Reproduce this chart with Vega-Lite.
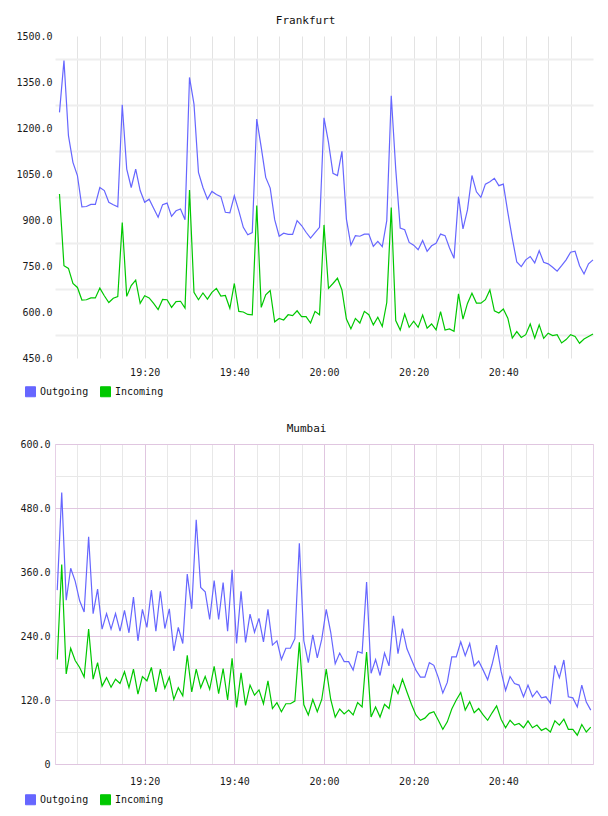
{
  "$schema": "https://vega.github.io/schema/vega-lite/v6.json",
  "background": "white",
  "padding": {"left": 15, "top": 15, "right": 0, "bottom": 0},
  "config": {
    "view": {"stroke": null},
    "axis": {
      "labelFont": "DejaVu Sans Mono",
      "labelFontSize": 10,
      "labelColor": "#1a1a1a",
      "domain": false,
      "ticks": false,
      "tickSize": 0,
      "labelFlush": false,
      "labelOverlap": false
    },
    "title": {
      "font": "DejaVu Sans Mono",
      "fontSize": 11,
      "fontWeight": "normal",
      "color": "#111111",
      "anchor": "middle",
      "frame": "bounds",
      "offset": 5
    },
    "legend": {
      "labelFont": "DejaVu Sans Mono",
      "labelFontSize": 10,
      "labelColor": "#111111"
    }
  },
  "datasets": {
    "frankfurt": [
      {"t": "2024-05-14T19:01:00", "Outgoing": 1251, "Incoming": 985},
      {"t": "2024-05-14T19:02:00", "Outgoing": 1420, "Incoming": 751},
      {"t": "2024-05-14T19:03:00", "Outgoing": 1175, "Incoming": 742},
      {"t": "2024-05-14T19:04:00", "Outgoing": 1088, "Incoming": 693},
      {"t": "2024-05-14T19:05:00", "Outgoing": 1045, "Incoming": 680},
      {"t": "2024-05-14T19:06:00", "Outgoing": 943, "Incoming": 639},
      {"t": "2024-05-14T19:07:00", "Outgoing": 944, "Incoming": 640},
      {"t": "2024-05-14T19:08:00", "Outgoing": 951, "Incoming": 646},
      {"t": "2024-05-14T19:09:00", "Outgoing": 951, "Incoming": 646},
      {"t": "2024-05-14T19:10:00", "Outgoing": 1006, "Incoming": 678},
      {"t": "2024-05-14T19:11:00", "Outgoing": 996, "Incoming": 653},
      {"t": "2024-05-14T19:12:00", "Outgoing": 958, "Incoming": 631},
      {"t": "2024-05-14T19:13:00", "Outgoing": 950, "Incoming": 645},
      {"t": "2024-05-14T19:14:00", "Outgoing": 943, "Incoming": 650},
      {"t": "2024-05-14T19:15:00", "Outgoing": 1276, "Incoming": 892},
      {"t": "2024-05-14T19:16:00", "Outgoing": 1066, "Incoming": 651},
      {"t": "2024-05-14T19:17:00", "Outgoing": 1006, "Incoming": 686},
      {"t": "2024-05-14T19:18:00", "Outgoing": 1066, "Incoming": 704},
      {"t": "2024-05-14T19:19:00", "Outgoing": 996, "Incoming": 628},
      {"t": "2024-05-14T19:20:00", "Outgoing": 958, "Incoming": 653},
      {"t": "2024-05-14T19:21:00", "Outgoing": 968, "Incoming": 646},
      {"t": "2024-05-14T19:22:00", "Outgoing": 938, "Incoming": 628},
      {"t": "2024-05-14T19:23:00", "Outgoing": 909, "Incoming": 608},
      {"t": "2024-05-14T19:24:00", "Outgoing": 950, "Incoming": 641},
      {"t": "2024-05-14T19:25:00", "Outgoing": 955, "Incoming": 640},
      {"t": "2024-05-14T19:26:00", "Outgoing": 912, "Incoming": 615},
      {"t": "2024-05-14T19:27:00", "Outgoing": 930, "Incoming": 634},
      {"t": "2024-05-14T19:28:00", "Outgoing": 936, "Incoming": 635},
      {"t": "2024-05-14T19:29:00", "Outgoing": 901, "Incoming": 613},
      {"t": "2024-05-14T19:30:00", "Outgoing": 1365, "Incoming": 998},
      {"t": "2024-05-14T19:31:00", "Outgoing": 1278, "Incoming": 664},
      {"t": "2024-05-14T19:32:00", "Outgoing": 1055, "Incoming": 640},
      {"t": "2024-05-14T19:33:00", "Outgoing": 1006, "Incoming": 662},
      {"t": "2024-05-14T19:34:00", "Outgoing": 968, "Incoming": 642},
      {"t": "2024-05-14T19:35:00", "Outgoing": 993, "Incoming": 664},
      {"t": "2024-05-14T19:36:00", "Outgoing": 983, "Incoming": 677},
      {"t": "2024-05-14T19:37:00", "Outgoing": 976, "Incoming": 652},
      {"t": "2024-05-14T19:38:00", "Outgoing": 925, "Incoming": 654},
      {"t": "2024-05-14T19:39:00", "Outgoing": 923, "Incoming": 612},
      {"t": "2024-05-14T19:40:00", "Outgoing": 979, "Incoming": 693},
      {"t": "2024-05-14T19:41:00", "Outgoing": 930, "Incoming": 602},
      {"t": "2024-05-14T19:42:00", "Outgoing": 876, "Incoming": 600},
      {"t": "2024-05-14T19:43:00", "Outgoing": 852, "Incoming": 592},
      {"t": "2024-05-14T19:44:00", "Outgoing": 859, "Incoming": 591},
      {"t": "2024-05-14T19:45:00", "Outgoing": 1229, "Incoming": 947},
      {"t": "2024-05-14T19:46:00", "Outgoing": 1137, "Incoming": 615},
      {"t": "2024-05-14T19:47:00", "Outgoing": 1039, "Incoming": 656},
      {"t": "2024-05-14T19:48:00", "Outgoing": 1004, "Incoming": 670},
      {"t": "2024-05-14T19:49:00", "Outgoing": 901, "Incoming": 568},
      {"t": "2024-05-14T19:50:00", "Outgoing": 847, "Incoming": 579},
      {"t": "2024-05-14T19:51:00", "Outgoing": 857, "Incoming": 574},
      {"t": "2024-05-14T19:52:00", "Outgoing": 853, "Incoming": 591},
      {"t": "2024-05-14T19:53:00", "Outgoing": 853, "Incoming": 588},
      {"t": "2024-05-14T19:54:00", "Outgoing": 898, "Incoming": 604},
      {"t": "2024-05-14T19:55:00", "Outgoing": 882, "Incoming": 585},
      {"t": "2024-05-14T19:56:00", "Outgoing": 860, "Incoming": 585},
      {"t": "2024-05-14T19:57:00", "Outgoing": 841, "Incoming": 564},
      {"t": "2024-05-14T19:58:00", "Outgoing": 859, "Incoming": 602},
      {"t": "2024-05-14T19:59:00", "Outgoing": 876, "Incoming": 591},
      {"t": "2024-05-14T20:00:00", "Outgoing": 1233, "Incoming": 884},
      {"t": "2024-05-14T20:01:00", "Outgoing": 1153, "Incoming": 677},
      {"t": "2024-05-14T20:02:00", "Outgoing": 1052, "Incoming": 693},
      {"t": "2024-05-14T20:03:00", "Outgoing": 1045, "Incoming": 710},
      {"t": "2024-05-14T20:04:00", "Outgoing": 1124, "Incoming": 672},
      {"t": "2024-05-14T20:05:00", "Outgoing": 903, "Incoming": 577},
      {"t": "2024-05-14T20:06:00", "Outgoing": 818, "Incoming": 545},
      {"t": "2024-05-14T20:07:00", "Outgoing": 849, "Incoming": 579},
      {"t": "2024-05-14T20:08:00", "Outgoing": 847, "Incoming": 564},
      {"t": "2024-05-14T20:09:00", "Outgoing": 854, "Incoming": 602},
      {"t": "2024-05-14T20:10:00", "Outgoing": 854, "Incoming": 591},
      {"t": "2024-05-14T20:11:00", "Outgoing": 814, "Incoming": 558},
      {"t": "2024-05-14T20:12:00", "Outgoing": 830, "Incoming": 583},
      {"t": "2024-05-14T20:13:00", "Outgoing": 813, "Incoming": 553},
      {"t": "2024-05-14T20:14:00", "Outgoing": 898, "Incoming": 631},
      {"t": "2024-05-14T20:15:00", "Outgoing": 1305, "Incoming": 941},
      {"t": "2024-05-14T20:16:00", "Outgoing": 1066, "Incoming": 572},
      {"t": "2024-05-14T20:17:00", "Outgoing": 874, "Incoming": 541},
      {"t": "2024-05-14T20:18:00", "Outgoing": 868, "Incoming": 593},
      {"t": "2024-05-14T20:19:00", "Outgoing": 827, "Incoming": 550},
      {"t": "2024-05-14T20:20:00", "Outgoing": 818, "Incoming": 570},
      {"t": "2024-05-14T20:21:00", "Outgoing": 803, "Incoming": 550},
      {"t": "2024-05-14T20:22:00", "Outgoing": 833, "Incoming": 590},
      {"t": "2024-05-14T20:23:00", "Outgoing": 798, "Incoming": 547},
      {"t": "2024-05-14T20:24:00", "Outgoing": 816, "Incoming": 561},
      {"t": "2024-05-14T20:25:00", "Outgoing": 824, "Incoming": 542},
      {"t": "2024-05-14T20:26:00", "Outgoing": 854, "Incoming": 601},
      {"t": "2024-05-14T20:27:00", "Outgoing": 849, "Incoming": 541},
      {"t": "2024-05-14T20:28:00", "Outgoing": 809, "Incoming": 545},
      {"t": "2024-05-14T20:29:00", "Outgoing": 775, "Incoming": 537},
      {"t": "2024-05-14T20:30:00", "Outgoing": 976, "Incoming": 659},
      {"t": "2024-05-14T20:31:00", "Outgoing": 871, "Incoming": 577},
      {"t": "2024-05-14T20:32:00", "Outgoing": 933, "Incoming": 628},
      {"t": "2024-05-14T20:33:00", "Outgoing": 1045, "Incoming": 661},
      {"t": "2024-05-14T20:34:00", "Outgoing": 992, "Incoming": 629},
      {"t": "2024-05-14T20:35:00", "Outgoing": 974, "Incoming": 629},
      {"t": "2024-05-14T20:36:00", "Outgoing": 1017, "Incoming": 640},
      {"t": "2024-05-14T20:37:00", "Outgoing": 1025, "Incoming": 672},
      {"t": "2024-05-14T20:38:00", "Outgoing": 1036, "Incoming": 604},
      {"t": "2024-05-14T20:39:00", "Outgoing": 1012, "Incoming": 597},
      {"t": "2024-05-14T20:40:00", "Outgoing": 1017, "Incoming": 610},
      {"t": "2024-05-14T20:41:00", "Outgoing": 925, "Incoming": 580},
      {"t": "2024-05-14T20:42:00", "Outgoing": 840, "Incoming": 515},
      {"t": "2024-05-14T20:43:00", "Outgoing": 763, "Incoming": 536},
      {"t": "2024-05-14T20:44:00", "Outgoing": 748, "Incoming": 517},
      {"t": "2024-05-14T20:45:00", "Outgoing": 770, "Incoming": 526},
      {"t": "2024-05-14T20:46:00", "Outgoing": 781, "Incoming": 561},
      {"t": "2024-05-14T20:47:00", "Outgoing": 760, "Incoming": 515},
      {"t": "2024-05-14T20:48:00", "Outgoing": 800, "Incoming": 558},
      {"t": "2024-05-14T20:49:00", "Outgoing": 762, "Incoming": 514},
      {"t": "2024-05-14T20:50:00", "Outgoing": 757, "Incoming": 531},
      {"t": "2024-05-14T20:51:00", "Outgoing": 746, "Incoming": 523},
      {"t": "2024-05-14T20:52:00", "Outgoing": 733, "Incoming": 526},
      {"t": "2024-05-14T20:53:00", "Outgoing": 751, "Incoming": 499},
      {"t": "2024-05-14T20:54:00", "Outgoing": 770, "Incoming": 510},
      {"t": "2024-05-14T20:55:00", "Outgoing": 795, "Incoming": 526},
      {"t": "2024-05-14T20:56:00", "Outgoing": 798, "Incoming": 520},
      {"t": "2024-05-14T20:57:00", "Outgoing": 751, "Incoming": 498},
      {"t": "2024-05-14T20:58:00", "Outgoing": 724, "Incoming": 512},
      {"t": "2024-05-14T20:59:00", "Outgoing": 757, "Incoming": 520},
      {"t": "2024-05-14T21:00:00", "Outgoing": 770, "Incoming": 528}
    ],
    "mumbai": [
      {"t": "2024-05-14T19:00:30", "Outgoing": 326, "Incoming": 196},
      {"t": "2024-05-14T19:01:30", "Outgoing": 509, "Incoming": 374},
      {"t": "2024-05-14T19:02:30", "Outgoing": 307, "Incoming": 169},
      {"t": "2024-05-14T19:03:30", "Outgoing": 367, "Incoming": 217},
      {"t": "2024-05-14T19:04:30", "Outgoing": 343, "Incoming": 194},
      {"t": "2024-05-14T19:05:30", "Outgoing": 306, "Incoming": 181},
      {"t": "2024-05-14T19:06:30", "Outgoing": 285, "Incoming": 163},
      {"t": "2024-05-14T19:07:30", "Outgoing": 426, "Incoming": 253},
      {"t": "2024-05-14T19:08:30", "Outgoing": 282, "Incoming": 159},
      {"t": "2024-05-14T19:09:30", "Outgoing": 328, "Incoming": 190},
      {"t": "2024-05-14T19:10:30", "Outgoing": 253, "Incoming": 146},
      {"t": "2024-05-14T19:11:30", "Outgoing": 282, "Incoming": 162},
      {"t": "2024-05-14T19:12:30", "Outgoing": 253, "Incoming": 144},
      {"t": "2024-05-14T19:13:30", "Outgoing": 282, "Incoming": 159},
      {"t": "2024-05-14T19:14:30", "Outgoing": 249, "Incoming": 151},
      {"t": "2024-05-14T19:15:30", "Outgoing": 288, "Incoming": 173},
      {"t": "2024-05-14T19:16:30", "Outgoing": 246, "Incoming": 143},
      {"t": "2024-05-14T19:17:30", "Outgoing": 313, "Incoming": 178},
      {"t": "2024-05-14T19:18:30", "Outgoing": 231, "Incoming": 131},
      {"t": "2024-05-14T19:19:30", "Outgoing": 290, "Incoming": 164},
      {"t": "2024-05-14T19:20:30", "Outgoing": 256, "Incoming": 156},
      {"t": "2024-05-14T19:21:30", "Outgoing": 326, "Incoming": 181},
      {"t": "2024-05-14T19:22:30", "Outgoing": 249, "Incoming": 135},
      {"t": "2024-05-14T19:23:30", "Outgoing": 324, "Incoming": 178},
      {"t": "2024-05-14T19:24:30", "Outgoing": 254, "Incoming": 142},
      {"t": "2024-05-14T19:25:30", "Outgoing": 291, "Incoming": 163},
      {"t": "2024-05-14T19:26:30", "Outgoing": 212, "Incoming": 121},
      {"t": "2024-05-14T19:27:30", "Outgoing": 256, "Incoming": 143},
      {"t": "2024-05-14T19:28:30", "Outgoing": 226, "Incoming": 128},
      {"t": "2024-05-14T19:29:30", "Outgoing": 356, "Incoming": 204},
      {"t": "2024-05-14T19:30:30", "Outgoing": 291, "Incoming": 135},
      {"t": "2024-05-14T19:31:30", "Outgoing": 458, "Incoming": 178},
      {"t": "2024-05-14T19:32:30", "Outgoing": 331, "Incoming": 143},
      {"t": "2024-05-14T19:33:30", "Outgoing": 323, "Incoming": 164},
      {"t": "2024-05-14T19:34:30", "Outgoing": 271, "Incoming": 140},
      {"t": "2024-05-14T19:35:30", "Outgoing": 344, "Incoming": 183},
      {"t": "2024-05-14T19:36:30", "Outgoing": 271, "Incoming": 132},
      {"t": "2024-05-14T19:37:30", "Outgoing": 340, "Incoming": 179},
      {"t": "2024-05-14T19:38:30", "Outgoing": 249, "Incoming": 120},
      {"t": "2024-05-14T19:39:30", "Outgoing": 364, "Incoming": 198},
      {"t": "2024-05-14T19:40:30", "Outgoing": 226, "Incoming": 106},
      {"t": "2024-05-14T19:41:30", "Outgoing": 324, "Incoming": 171},
      {"t": "2024-05-14T19:42:30", "Outgoing": 228, "Incoming": 110},
      {"t": "2024-05-14T19:43:30", "Outgoing": 281, "Incoming": 148},
      {"t": "2024-05-14T19:44:30", "Outgoing": 247, "Incoming": 129},
      {"t": "2024-05-14T19:45:30", "Outgoing": 273, "Incoming": 139},
      {"t": "2024-05-14T19:46:30", "Outgoing": 229, "Incoming": 113},
      {"t": "2024-05-14T19:47:30", "Outgoing": 290, "Incoming": 156},
      {"t": "2024-05-14T19:48:30", "Outgoing": 223, "Incoming": 104},
      {"t": "2024-05-14T19:49:30", "Outgoing": 231, "Incoming": 115},
      {"t": "2024-05-14T19:50:30", "Outgoing": 196, "Incoming": 98},
      {"t": "2024-05-14T19:51:30", "Outgoing": 217, "Incoming": 113},
      {"t": "2024-05-14T19:52:30", "Outgoing": 217, "Incoming": 113},
      {"t": "2024-05-14T19:53:30", "Outgoing": 235, "Incoming": 118},
      {"t": "2024-05-14T19:54:30", "Outgoing": 414, "Incoming": 228},
      {"t": "2024-05-14T19:55:30", "Outgoing": 231, "Incoming": 111},
      {"t": "2024-05-14T19:56:30", "Outgoing": 190, "Incoming": 92},
      {"t": "2024-05-14T19:57:30", "Outgoing": 242, "Incoming": 121},
      {"t": "2024-05-14T19:58:30", "Outgoing": 199, "Incoming": 98},
      {"t": "2024-05-14T19:59:30", "Outgoing": 234, "Incoming": 121},
      {"t": "2024-05-14T20:00:30", "Outgoing": 290, "Incoming": 178},
      {"t": "2024-05-14T20:01:30", "Outgoing": 247, "Incoming": 121},
      {"t": "2024-05-14T20:02:30", "Outgoing": 188, "Incoming": 88},
      {"t": "2024-05-14T20:03:30", "Outgoing": 208, "Incoming": 103},
      {"t": "2024-05-14T20:04:30", "Outgoing": 192, "Incoming": 94},
      {"t": "2024-05-14T20:05:30", "Outgoing": 192, "Incoming": 101},
      {"t": "2024-05-14T20:06:30", "Outgoing": 176, "Incoming": 92},
      {"t": "2024-05-14T20:07:30", "Outgoing": 211, "Incoming": 115},
      {"t": "2024-05-14T20:08:30", "Outgoing": 208, "Incoming": 107},
      {"t": "2024-05-14T20:09:30", "Outgoing": 341, "Incoming": 210},
      {"t": "2024-05-14T20:10:30", "Outgoing": 170, "Incoming": 88},
      {"t": "2024-05-14T20:11:30", "Outgoing": 196, "Incoming": 107},
      {"t": "2024-05-14T20:12:30", "Outgoing": 166, "Incoming": 88},
      {"t": "2024-05-14T20:13:30", "Outgoing": 208, "Incoming": 112},
      {"t": "2024-05-14T20:14:30", "Outgoing": 184, "Incoming": 104},
      {"t": "2024-05-14T20:15:30", "Outgoing": 278, "Incoming": 148},
      {"t": "2024-05-14T20:16:30", "Outgoing": 207, "Incoming": 132},
      {"t": "2024-05-14T20:17:30", "Outgoing": 254, "Incoming": 159},
      {"t": "2024-05-14T20:18:30", "Outgoing": 216, "Incoming": 135},
      {"t": "2024-05-14T20:19:30", "Outgoing": 196, "Incoming": 112},
      {"t": "2024-05-14T20:20:30", "Outgoing": 176, "Incoming": 92},
      {"t": "2024-05-14T20:21:30", "Outgoing": 163, "Incoming": 82},
      {"t": "2024-05-14T20:22:30", "Outgoing": 163, "Incoming": 86},
      {"t": "2024-05-14T20:23:30", "Outgoing": 190, "Incoming": 95},
      {"t": "2024-05-14T20:24:30", "Outgoing": 185, "Incoming": 98},
      {"t": "2024-05-14T20:25:30", "Outgoing": 162, "Incoming": 82},
      {"t": "2024-05-14T20:26:30", "Outgoing": 133, "Incoming": 65},
      {"t": "2024-05-14T20:27:30", "Outgoing": 153, "Incoming": 79},
      {"t": "2024-05-14T20:28:30", "Outgoing": 201, "Incoming": 103},
      {"t": "2024-05-14T20:29:30", "Outgoing": 201, "Incoming": 120},
      {"t": "2024-05-14T20:30:30", "Outgoing": 229, "Incoming": 134},
      {"t": "2024-05-14T20:31:30", "Outgoing": 203, "Incoming": 101},
      {"t": "2024-05-14T20:32:30", "Outgoing": 226, "Incoming": 117},
      {"t": "2024-05-14T20:33:30", "Outgoing": 184, "Incoming": 96},
      {"t": "2024-05-14T20:34:30", "Outgoing": 193, "Incoming": 104},
      {"t": "2024-05-14T20:35:30", "Outgoing": 176, "Incoming": 92},
      {"t": "2024-05-14T20:36:30", "Outgoing": 158, "Incoming": 82},
      {"t": "2024-05-14T20:37:30", "Outgoing": 187, "Incoming": 96},
      {"t": "2024-05-14T20:38:30", "Outgoing": 223, "Incoming": 109},
      {"t": "2024-05-14T20:39:30", "Outgoing": 174, "Incoming": 84},
      {"t": "2024-05-14T20:40:30", "Outgoing": 138, "Incoming": 68},
      {"t": "2024-05-14T20:41:30", "Outgoing": 164, "Incoming": 82},
      {"t": "2024-05-14T20:42:30", "Outgoing": 151, "Incoming": 73},
      {"t": "2024-05-14T20:43:30", "Outgoing": 148, "Incoming": 76},
      {"t": "2024-05-14T20:44:30", "Outgoing": 126, "Incoming": 68},
      {"t": "2024-05-14T20:45:30", "Outgoing": 148, "Incoming": 81},
      {"t": "2024-05-14T20:46:30", "Outgoing": 126, "Incoming": 68},
      {"t": "2024-05-14T20:47:30", "Outgoing": 137, "Incoming": 73},
      {"t": "2024-05-14T20:48:30", "Outgoing": 124, "Incoming": 63},
      {"t": "2024-05-14T20:49:30", "Outgoing": 126, "Incoming": 67},
      {"t": "2024-05-14T20:50:30", "Outgoing": 114, "Incoming": 60},
      {"t": "2024-05-14T20:51:30", "Outgoing": 185, "Incoming": 81},
      {"t": "2024-05-14T20:52:30", "Outgoing": 162, "Incoming": 73},
      {"t": "2024-05-14T20:53:30", "Outgoing": 195, "Incoming": 84},
      {"t": "2024-05-14T20:54:30", "Outgoing": 126, "Incoming": 65},
      {"t": "2024-05-14T20:55:30", "Outgoing": 124, "Incoming": 65},
      {"t": "2024-05-14T20:56:30", "Outgoing": 107, "Incoming": 54},
      {"t": "2024-05-14T20:57:30", "Outgoing": 148, "Incoming": 74},
      {"t": "2024-05-14T20:58:30", "Outgoing": 116, "Incoming": 60},
      {"t": "2024-05-14T20:59:30", "Outgoing": 101, "Incoming": 69}
    ]
  },
  "concat": [
    {
      "title": "Frankfurt",
      "data": {"name": "frankfurt"},
      "width": 538,
      "height": 322,
      "transform": [{"fold": ["Outgoing", "Incoming"], "as": ["direction", "rate"]}],
      "mark": {"type": "line", "strokeWidth": 1.2},
      "encoding": {
        "x": {
          "field": "t",
          "type": "temporal",
          "title": null,
          "scale": {"domain": [
            {"year": 2024, "month": 5, "date": 14, "hours": 19, "minutes": 0},
            {"year": 2024, "month": 5, "date": 14, "hours": 21, "minutes": 0}
          ]},
          "axis": {
            "values": [
              {"year": 2024, "month": 5, "date": 14, "hours": 19, "minutes": 5},
              {"year": 2024, "month": 5, "date": 14, "hours": 19, "minutes": 10},
              {"year": 2024, "month": 5, "date": 14, "hours": 19, "minutes": 15},
              {"year": 2024, "month": 5, "date": 14, "hours": 19, "minutes": 20},
              {"year": 2024, "month": 5, "date": 14, "hours": 19, "minutes": 25},
              {"year": 2024, "month": 5, "date": 14, "hours": 19, "minutes": 30},
              {"year": 2024, "month": 5, "date": 14, "hours": 19, "minutes": 35},
              {"year": 2024, "month": 5, "date": 14, "hours": 19, "minutes": 40},
              {"year": 2024, "month": 5, "date": 14, "hours": 19, "minutes": 45},
              {"year": 2024, "month": 5, "date": 14, "hours": 19, "minutes": 50},
              {"year": 2024, "month": 5, "date": 14, "hours": 19, "minutes": 55},
              {"year": 2024, "month": 5, "date": 14, "hours": 20, "minutes": 0},
              {"year": 2024, "month": 5, "date": 14, "hours": 20, "minutes": 5},
              {"year": 2024, "month": 5, "date": 14, "hours": 20, "minutes": 10},
              {"year": 2024, "month": 5, "date": 14, "hours": 20, "minutes": 15},
              {"year": 2024, "month": 5, "date": 14, "hours": 20, "minutes": 20},
              {"year": 2024, "month": 5, "date": 14, "hours": 20, "minutes": 25},
              {"year": 2024, "month": 5, "date": 14, "hours": 20, "minutes": 30},
              {"year": 2024, "month": 5, "date": 14, "hours": 20, "minutes": 35},
              {"year": 2024, "month": 5, "date": 14, "hours": 20, "minutes": 40},
              {"year": 2024, "month": 5, "date": 14, "hours": 20, "minutes": 45},
              {"year": 2024, "month": 5, "date": 14, "hours": 20, "minutes": 50},
              {"year": 2024, "month": 5, "date": 14, "hours": 20, "minutes": 55}
            ],
            "labelExpr": "minutes(datum.value) % 20 == 0 ? timeFormat(datum.value, '%H:%M') : ''",
            "labelPadding": 9,
            "gridColor": "#e3e3e3",
            "gridWidth": 1
          }
        },
        "y": {
          "field": "rate",
          "type": "quantitative",
          "title": null,
          "scale": {"domain": [450, 1500], "nice": false, "zero": false},
          "axis": {
            "values": [1500, 1350, 1200, 1050, 900, 750, 600, 450],
            "format": ".1f",
            "tickOffset": 23,
            "labelOffset": -23,
            "labelPadding": 3,
            "gridColor": {"condition": {"test": "datum.value <= 450", "value": "rgba(0,0,0,0)"}, "value": "#eeeeee"},
            "gridWidth": 2
          }
        },
        "color": {
          "field": "direction",
          "type": "nominal",
          "scale": {"domain": ["Outgoing", "Incoming"], "range": ["#6666ff", "#00c800"]},
          "legend": {
            "orient": "none",
            "direction": "horizontal",
            "title": null,
            "legendX": -30,
            "legendY": 350,
            "symbolType": "square",
            "symbolSize": 100,
            "labelOffset": 4,
            "columnPadding": 9,
            "padding": 0,
            "encode": {
              "symbols": {
                "update": {
                  "fill": {"signal": "datum.value == 'Outgoing' ? '#6666ff' : '#00c800'"},
                  "fillOpacity": {"value": 1},
                  "stroke": {"value": "#8c8c8c"},
                  "strokeWidth": {"value": 1}
                }
              }
            }
          }
        }
      }
    },
    {
      "title": "Mumbai",
      "data": {"name": "mumbai"},
      "width": 538,
      "height": 320,
      "view": {"stroke": "#e6d0e6"},
      "transform": [{"fold": ["Outgoing", "Incoming"], "as": ["direction", "rate"]}],
      "mark": {"type": "line", "strokeWidth": 1.2},
      "encoding": {
        "x": {
          "field": "t",
          "type": "temporal",
          "title": null,
          "scale": {"domain": [
            {"year": 2024, "month": 5, "date": 14, "hours": 19, "minutes": 0},
            {"year": 2024, "month": 5, "date": 14, "hours": 21, "minutes": 0}
          ]},
          "axis": {
            "values": [
              {"year": 2024, "month": 5, "date": 14, "hours": 19, "minutes": 5},
              {"year": 2024, "month": 5, "date": 14, "hours": 19, "minutes": 10},
              {"year": 2024, "month": 5, "date": 14, "hours": 19, "minutes": 15},
              {"year": 2024, "month": 5, "date": 14, "hours": 19, "minutes": 20},
              {"year": 2024, "month": 5, "date": 14, "hours": 19, "minutes": 25},
              {"year": 2024, "month": 5, "date": 14, "hours": 19, "minutes": 30},
              {"year": 2024, "month": 5, "date": 14, "hours": 19, "minutes": 35},
              {"year": 2024, "month": 5, "date": 14, "hours": 19, "minutes": 40},
              {"year": 2024, "month": 5, "date": 14, "hours": 19, "minutes": 45},
              {"year": 2024, "month": 5, "date": 14, "hours": 19, "minutes": 50},
              {"year": 2024, "month": 5, "date": 14, "hours": 19, "minutes": 55},
              {"year": 2024, "month": 5, "date": 14, "hours": 20, "minutes": 0},
              {"year": 2024, "month": 5, "date": 14, "hours": 20, "minutes": 5},
              {"year": 2024, "month": 5, "date": 14, "hours": 20, "minutes": 10},
              {"year": 2024, "month": 5, "date": 14, "hours": 20, "minutes": 15},
              {"year": 2024, "month": 5, "date": 14, "hours": 20, "minutes": 20},
              {"year": 2024, "month": 5, "date": 14, "hours": 20, "minutes": 25},
              {"year": 2024, "month": 5, "date": 14, "hours": 20, "minutes": 30},
              {"year": 2024, "month": 5, "date": 14, "hours": 20, "minutes": 35},
              {"year": 2024, "month": 5, "date": 14, "hours": 20, "minutes": 40},
              {"year": 2024, "month": 5, "date": 14, "hours": 20, "minutes": 45},
              {"year": 2024, "month": 5, "date": 14, "hours": 20, "minutes": 50},
              {"year": 2024, "month": 5, "date": 14, "hours": 20, "minutes": 55}
            ],
            "labelExpr": "minutes(datum.value) % 20 == 0 ? timeFormat(datum.value, '%H:%M') : ''",
            "labelPadding": 12,
            "gridColor": {"condition": {"test": "minutes(datum.value) % 20 == 0", "value": "#e0c6e0"}, "value": "#e8e8e8"},
            "gridWidth": 1
          }
        },
        "y": {
          "field": "rate",
          "type": "quantitative",
          "title": null,
          "scale": {"domain": [0, 600], "nice": false},
          "axis": {
            "values": [0, 60, 120, 180, 240, 300, 360, 420, 480, 540, 600],
            "labelExpr": "datum.value % 120 == 0 ? (datum.value == 0 ? '0' : format(datum.value, '.1f')) : ''",
            "labelPadding": 5,
            "gridColor": {"condition": {"test": "datum.value % 120 == 0", "value": "#e0c6e0"}, "value": "#e8e8e8"},
            "gridWidth": 1
          }
        },
        "color": {
          "field": "direction",
          "type": "nominal",
          "scale": {"domain": ["Outgoing", "Incoming"], "range": ["#6666ff", "#00c800"]},
          "legend": {
            "orient": "none",
            "direction": "horizontal",
            "title": null,
            "legendX": -30,
            "legendY": 350,
            "symbolType": "square",
            "symbolSize": 100,
            "labelOffset": 4,
            "columnPadding": 9,
            "padding": 0,
            "encode": {
              "symbols": {
                "update": {
                  "fill": {"signal": "datum.value == 'Outgoing' ? '#6666ff' : '#00c800'"},
                  "fillOpacity": {"value": 1},
                  "stroke": {"value": "#8c8c8c"},
                  "strokeWidth": {"value": 1}
                }
              }
            }
          }
        }
      }
    }
  ],
  "columns": 1,
  "bounds": "full",
  "spacing": 23,
  "resolve": {"scale": {"color": "independent"}}
}
